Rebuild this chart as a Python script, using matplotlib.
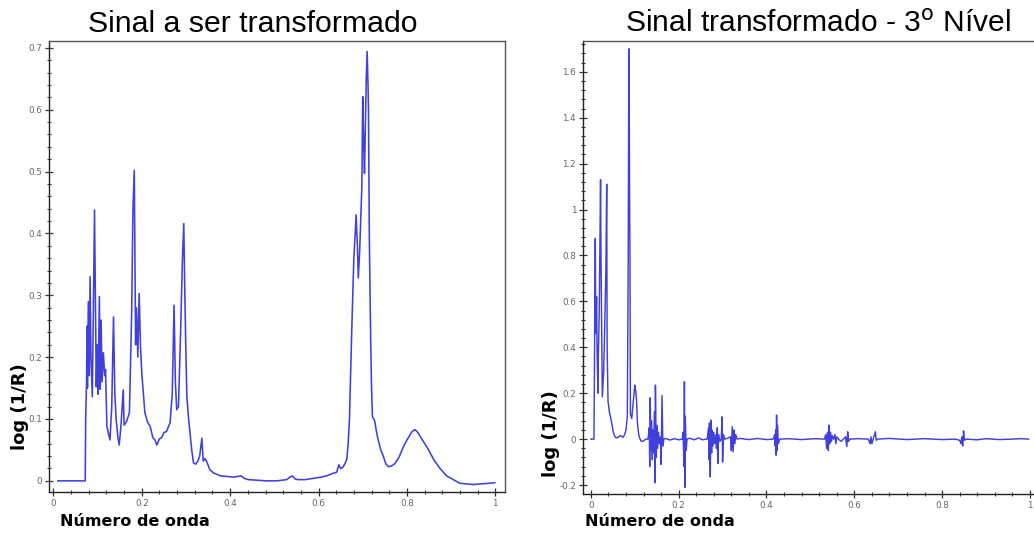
import matplotlib
matplotlib.use('Agg')
from matplotlib import pyplot as plt
from matplotlib.ticker import MultipleLocator, FormatStrFormatter

# sinal original (espectro)
onda_a = [0.010, 0.072, 0.073, 0.075, 0.076, 0.077, 0.079, 0.081, 0.083, 0.085,
          0.088, 0.090, 0.093, 0.095, 0.097, 0.099, 0.101, 0.104, 0.106, 0.108,
          0.110, 0.113, 0.116, 0.118, 0.121, 0.125, 0.128, 0.132, 0.136, 0.139,
          0.142, 0.146, 0.149, 0.153, 0.158, 0.160, 0.165, 0.172, 0.177, 0.180,
          0.183, 0.185, 0.186, 0.188, 0.191, 0.194, 0.197, 0.200, 0.207, 0.213,
          0.219, 0.225, 0.230, 0.234, 0.240, 0.245, 0.250, 0.256, 0.264, 0.269,
          0.273, 0.276, 0.279, 0.283, 0.288, 0.292, 0.295, 0.297, 0.300, 0.302,
          0.306, 0.309, 0.313, 0.317, 0.322, 0.327, 0.331, 0.336, 0.339, 0.343,
          0.347, 0.354, 0.362, 0.378, 0.395, 0.407, 0.425, 0.432, 0.441, 0.460,
          0.482, 0.505, 0.528, 0.535, 0.541, 0.547, 0.554, 0.570, 0.588, 0.605,
          0.618, 0.632, 0.641, 0.646, 0.650, 0.655, 0.660, 0.664, 0.667, 0.670,
          0.675, 0.680, 0.683, 0.685, 0.688, 0.690, 0.693, 0.696, 0.698, 0.700,
          0.702, 0.704, 0.706, 0.708, 0.710, 0.712, 0.713, 0.715, 0.718, 0.720,
          0.722, 0.727, 0.731, 0.735, 0.741, 0.747, 0.752, 0.758, 0.765, 0.773,
          0.782, 0.792, 0.800, 0.811, 0.818, 0.825, 0.835, 0.845, 0.852, 0.862,
          0.875, 0.890, 0.905, 0.920, 0.935, 0.950, 0.965, 0.985, 0.999]
logr_a = [0.000, 0.000, 0.100, 0.160, 0.250, 0.150, 0.290, 0.170, 0.330, 0.200,
          0.136, 0.250, 0.438, 0.300, 0.152, 0.220, 0.140, 0.298, 0.148, 0.260,
          0.160, 0.207, 0.170, 0.180, 0.088, 0.075, 0.066, 0.120, 0.265, 0.140,
          0.099, 0.070, 0.058, 0.090, 0.147, 0.090, 0.095, 0.110, 0.270, 0.440,
          0.502, 0.300, 0.220, 0.280, 0.200, 0.303, 0.220, 0.174, 0.110, 0.095,
          0.088, 0.070, 0.066, 0.058, 0.068, 0.070, 0.078, 0.080, 0.094, 0.141,
          0.284, 0.160, 0.115, 0.120, 0.244, 0.360, 0.416, 0.320, 0.200, 0.136,
          0.100, 0.078, 0.050, 0.029, 0.027, 0.032, 0.040, 0.069, 0.032, 0.036,
          0.031, 0.018, 0.013, 0.008, 0.007, 0.006, 0.008, 0.004, 0.002, 0.001,
          0.000, 0.000, 0.002, 0.006, 0.008, 0.003, 0.002, 0.002, 0.004, 0.006,
          0.008, 0.012, 0.014, 0.026, 0.020, 0.022, 0.028, 0.035, 0.060, 0.100,
          0.239, 0.362, 0.400, 0.430, 0.380, 0.328, 0.370, 0.430, 0.475, 0.621,
          0.550, 0.497, 0.570, 0.650, 0.694, 0.640, 0.600, 0.390, 0.228, 0.150,
          0.104, 0.097, 0.080, 0.066, 0.050, 0.039, 0.028, 0.023, 0.024, 0.028,
          0.038, 0.055, 0.066, 0.079, 0.083, 0.078, 0.066, 0.055, 0.046, 0.033,
          0.020, 0.008, 0.002, -0.004, -0.005, -0.006, -0.005, -0.004, -0.003]

# sinal transformado, 3o nivel
onda_b = [0.000, 0.007, 0.008, 0.010, 0.011, 0.013, 0.014, 0.016, 0.017, 0.019,
          0.022, 0.023, 0.024, 0.026, 0.029, 0.031, 0.034, 0.036, 0.037, 0.039,
          0.042, 0.047, 0.051, 0.055, 0.058, 0.062, 0.066, 0.070, 0.073, 0.077,
          0.080, 0.083, 0.085, 0.086, 0.087, 0.088, 0.089, 0.090, 0.093, 0.096,
          0.100, 0.102, 0.104, 0.106, 0.109, 0.112, 0.115, 0.120, 0.125, 0.130,
          0.133, 0.134, 0.135, 0.137, 0.138, 0.140, 0.141, 0.143, 0.145, 0.146,
          0.147, 0.149, 0.150, 0.152, 0.154, 0.156, 0.159, 0.160, 0.162, 0.164,
          0.166, 0.170, 0.180, 0.190, 0.200, 0.208, 0.210, 0.212, 0.213, 0.214,
          0.215, 0.217, 0.219, 0.225, 0.235, 0.245, 0.255, 0.262, 0.265, 0.268,
          0.269, 0.270, 0.272, 0.273, 0.275, 0.276, 0.278, 0.280, 0.282, 0.285,
          0.286, 0.288, 0.289, 0.291, 0.294, 0.297, 0.299, 0.300, 0.302, 0.305,
          0.310, 0.318, 0.320, 0.322, 0.324, 0.326, 0.328, 0.330, 0.333, 0.340,
          0.360, 0.380, 0.400, 0.415, 0.419, 0.420, 0.421, 0.422, 0.423, 0.424,
          0.425, 0.427, 0.430, 0.450, 0.480, 0.510, 0.532, 0.535, 0.537, 0.539,
          0.541, 0.542, 0.544, 0.546, 0.548, 0.550, 0.553, 0.556, 0.558, 0.560,
          0.564, 0.570, 0.575, 0.580, 0.583, 0.585, 0.587, 0.590, 0.610, 0.632,
          0.636, 0.638, 0.640, 0.643, 0.646, 0.648, 0.650, 0.653, 0.680, 0.720,
          0.760, 0.800, 0.830, 0.840, 0.843, 0.845, 0.847, 0.849, 0.851, 0.855,
          0.880, 0.900, 0.930, 0.960, 0.980, 0.997]
logr_b = [0.000, 0.000, 0.300, 0.874, 0.460, 0.620, 0.400, 0.200, 0.370, 0.550,
          1.130, 0.790, 0.570, 0.184, 0.290, 0.450, 0.720, 1.110, 0.400, 0.165,
          0.120, 0.075, 0.030, 0.010, 0.005, 0.008, 0.015, 0.012, 0.008, 0.020,
          0.040, 0.100, 0.780, 1.410, 1.700, 1.100, 0.790, 0.110, 0.090, 0.150,
          0.235, 0.210, 0.170, 0.070, 0.018, 0.000, -0.010, -0.008, 0.000, 0.000,
          0.050, -0.120, 0.180, -0.050, 0.080, -0.090, 0.040, -0.060, 0.120, -0.190,
          0.235, -0.080, 0.060, -0.040, 0.030, -0.020, 0.010, -0.110, 0.190, -0.030,
          0.000, 0.003, -0.004, 0.002, -0.003, 0.000, 0.030, -0.120, 0.250, -0.210,
          0.100, -0.050, 0.000, 0.004, -0.003, 0.005, -0.003, 0.000, 0.000, 0.050,
          -0.090, 0.070, -0.165, 0.083, -0.060, 0.040, -0.030, 0.030, -0.020, 0.020,
          -0.040, 0.050, -0.106, 0.020, -0.010, 0.000, 0.097, -0.100, 0.020, 0.000,
          0.003, 0.010, -0.050, 0.054, -0.055, 0.040, -0.020, 0.020, 0.000, 0.003,
          -0.002, 0.003, -0.002, 0.000, 0.020, -0.030, 0.040, -0.070, 0.105, -0.050,
          0.060, -0.020, 0.000, 0.002, -0.002, 0.002, 0.000, 0.020, -0.040, 0.030,
          -0.050, 0.061, -0.020, 0.030, -0.010, 0.015, 0.000, 0.020, -0.020, 0.010,
          0.000, -0.010, 0.000, 0.010, -0.033, 0.032, -0.010, 0.000, 0.002, 0.000,
          -0.020, 0.010, -0.020, 0.000, 0.020, 0.032, -0.005, 0.000, 0.003, -0.002,
          0.002, -0.002, 0.000, -0.005, -0.020, 0.010, -0.030, 0.036, -0.005, 0.000,
          -0.003, 0.002, -0.002, 0.000, 0.002, 0.000]

cor = '#4040dc'
W, H = 1034., 535.

fig = plt.figure(figsize=(10.34, 5.35), dpi=100)

def eixo(x0, x1, y0, y1):
    # posicao em pixels -> fracao da figura
    return fig.add_axes([x0/W, 1-y1/H, (x1-x0)/W, (y1-y0)/H])

def estilo(ax, ymaj, ymin):
    ax.xaxis.set_major_locator(MultipleLocator(0.2))
    ax.xaxis.set_minor_locator(MultipleLocator(0.04))
    ax.yaxis.set_major_locator(MultipleLocator(ymaj))
    ax.yaxis.set_minor_locator(MultipleLocator(ymin))
    ax.xaxis.set_major_formatter(FormatStrFormatter('%g'))
    ax.yaxis.set_major_formatter(FormatStrFormatter('%g'))
    ax.tick_params(which='both', direction='inout', colors='#333333',
                   labelcolor='#666666', labelsize=6.3, top=False, right=False)
    ax.tick_params(which='major', length=6, width=0.9, pad=2)
    ax.tick_params(which='minor', length=3.5, width=0.8)
    for s in ax.spines.values():
        s.set_color('#555555')
        s.set_linewidth(1.0)
    ax.spines['left'].set_color('#222222')
    ax.spines['bottom'].set_color('#222222')

ax1 = eixo(49, 505, 41, 492)
ax1.plot(onda_a, logr_a, color=cor, lw=1.15)
ax1.set_xlim(-0.01, 1.022)
ax1.set_ylim(-0.018, 0.711)
estilo(ax1, 0.1, 0.02)

ax2 = eixo(583, 1036, 41, 494)
ax2.plot(onda_b, logr_b, color=cor, lw=1.05)
ax2.set_xlim(-0.018, 1.014)
ax2.set_ylim(-0.239, 1.734)
estilo(ax2, 0.2, 0.04)

fig.text(253/W, 1-24/H, 'Sinal a ser transformado', ha='center', va='center',
         fontsize=21.8, family='Liberation Sans')
fig.text(818/W, 1-24/H, 'Sinal transformado - 3$^{\\mathrm{o}}$ Nível', ha='center',
         va='center', fontsize=21.6, family='Liberation Sans')

for xl, yc in [(20, 407), (551, 434)]:
    fig.text(xl/W, 1-yc/H, 'log (1/R)', rotation=90, ha='center', va='center',
             fontsize=13, fontweight='bold')
for xl in [60, 585]:
    fig.text(xl/W, 1-522/H, 'Número de onda', ha='left', va='center',
             fontsize=11.5, fontweight='bold')

plt.savefig('out.png', dpi=100)
